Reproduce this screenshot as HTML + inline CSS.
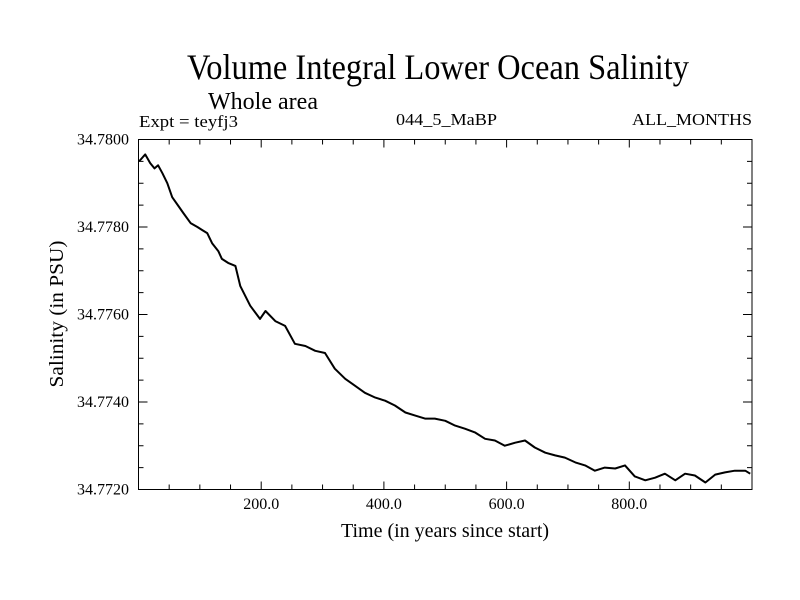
<!DOCTYPE html>
<html><head><meta charset="utf-8"><style>
body{margin:0;background:#fff;}
svg{display:block;font-family:"Liberation Serif",serif;}
</style></head><body>
<svg id="chart" width="800" height="600" viewBox="0 0 800 600">
<rect width="800" height="600" fill="#fff"/>
<text x="187" y="79" font-size="36" textLength="502" lengthAdjust="spacingAndGlyphs">Volume Integral Lower Ocean Salinity</text>
<text x="208" y="109" font-size="24" textLength="110" lengthAdjust="spacingAndGlyphs">Whole area</text>
<text x="139" y="127" font-size="17" textLength="99" lengthAdjust="spacingAndGlyphs">Expt = teyfj3</text>
<text x="396" y="125" font-size="17" textLength="101" lengthAdjust="spacingAndGlyphs">044_5_MaBP</text>
<text x="632" y="125" font-size="17" textLength="120" lengthAdjust="spacingAndGlyphs">ALL_MONTHS</text>
<text transform="translate(63,314) rotate(-90)" text-anchor="middle" font-size="20" textLength="147" lengthAdjust="spacingAndGlyphs">Salinity (in PSU)</text>
<text x="445" y="537" text-anchor="middle" font-size="20">Time (in years since start)</text>
<g id="axes"></g>
<path id="line" fill="none" stroke="#000" stroke-width="2" stroke-linejoin="round"/>
<rect x="138.5" y="139.5" width="613.5" height="350" fill="none" stroke="#000" stroke-width="1"/>
</svg>
<script>
const years = [1,11,19,26,32,39,47,55,65,73,85,96,104,112,120,130,136,146,158,166,182,198,207,223,239,255,272,288,304,320,337,353,369,386,402,418,435,451,467,483,500,516,532,549,565,581,597,614,630,646,663,679,695,712,728,744,760,777,793,809,826,842,858,875,891,907,924,940,956,972,989,997];
const salinity = [34.77950,34.77966,34.77946,34.77934,34.77941,34.77923,34.77900,34.77868,34.77848,34.77832,34.77809,34.77800,34.77793,34.77786,34.77763,34.77745,34.77727,34.77718,34.77711,34.77665,34.77620,34.77590,34.77608,34.77585,34.77574,34.77533,34.77528,34.77517,34.77512,34.77476,34.77453,34.77437,34.77421,34.77410,34.77403,34.77392,34.77376,34.77369,34.77362,34.77362,34.77357,34.77346,34.77339,34.77330,34.77316,34.77312,34.77300,34.77307,34.77312,34.77296,34.77284,34.77278,34.77273,34.77262,34.77255,34.77243,34.77250,34.77248,34.77255,34.77230,34.77221,34.77227,34.77236,34.77221,34.77236,34.77232,34.77216,34.77234,34.77239,34.77243,34.77243,34.77236];
const xTicks = [200,400,600,800];
const xTickLabels = ["200.0","400.0","600.0","800.0"];
const yTicks = [34.772,34.774,34.776,34.778,34.780];
const yTickLabels = ["34.7720","34.7740","34.7760","34.7780","34.7800"];
const X0=138.5,X1=752,Y0=489.5,Y1=139.5;
const xs=v=>X0+(v-0)/(1000-0)*(X1-X0);
const ys=v=>Y0-(v-34.772)/(34.780-34.772)*(Y0-Y1);
const NS="http://www.w3.org/2000/svg";
const axes=document.getElementById('axes');
function ln(x1,y1,x2,y2){const l=document.createElementNS(NS,'line');l.setAttribute('x1',x1);l.setAttribute('y1',y1);l.setAttribute('x2',x2);l.setAttribute('y2',y2);l.setAttribute('stroke','#000');l.setAttribute('stroke-width','1');


axes.appendChild(l);}
for(let v=50;v<1000;v+=50){const x=xs(v);const L=(v%200===0)?8:5;ln(x,Y0,x,Y0-L);ln(x,Y1,x,Y1+L);}
for(let i=0;i<=16;i++){const y=Y0-i*(Y0-Y1)/16;const L=(i%4===0)?9:5;ln(X0,y,X0+L,y);ln(X1,y,X1-L,y);}
xTicks.forEach((v,i)=>{const t=document.createElementNS(NS,'text');t.setAttribute('x',xs(v));t.setAttribute('y',509);t.setAttribute('text-anchor','middle');t.setAttribute('font-size','16');t.textContent=xTickLabels[i];


axes.appendChild(t);});
yTicks.forEach((v,i)=>{const t=document.createElementNS(NS,'text');t.setAttribute('x',129);t.setAttribute('y',ys(v)+5);t.setAttribute('text-anchor','end');t.setAttribute('font-size','16');t.textContent=yTickLabels[i];


axes.appendChild(t);});
document.getElementById('line').setAttribute('d',years.map((y,i)=>(i?'L':'M')+xs(y).toFixed(1)+','+ys(salinity[i]).toFixed(1)).join(''));
</script>
</body></html>
